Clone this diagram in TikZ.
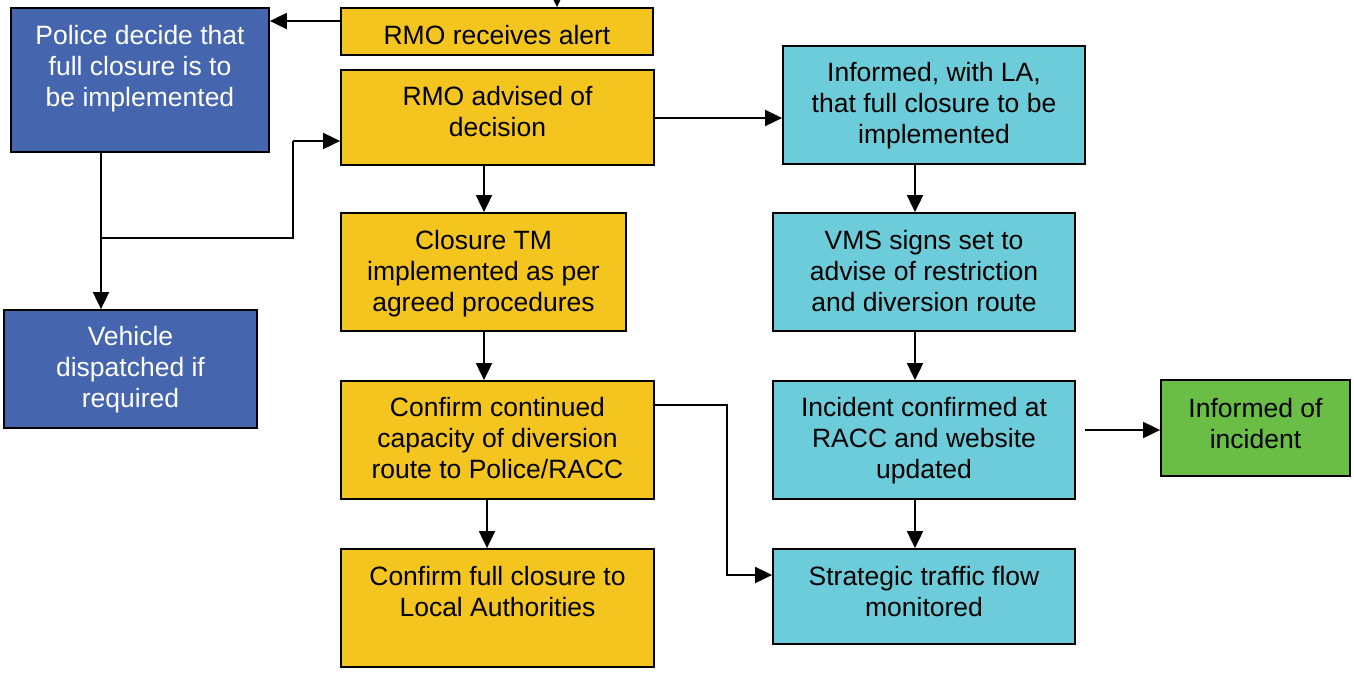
\documentclass[tikz,border=0pt]{standalone}
\usepackage{fontspec}
\setmainfont{Liberation Sans}
\usetikzlibrary{arrows.meta,fit,calc}
\definecolor{cblue}{HTML}{4566AF}
\definecolor{cyell}{HTML}{F5C51F}
\definecolor{ccyan}{HTML}{6DCCD9}
\definecolor{cgreen}{HTML}{6ABE45}
\tikzset{
  boxbase/.style={draw=black, line width=1.8pt, inner sep=0pt},
  bluebox/.style={boxbase, fill=cblue},
  yellbox/.style={boxbase, fill=cyell},
  cyanbox/.style={boxbase, fill=ccyan},
  greenbox/.style={boxbase, fill=cgreen},
  txt/.style={align=center, inner sep=0pt, font=\fontsize{26.5}{31}\selectfont},
  wtxt/.style={txt, text=white},
  conn/.style={line width=1.9pt, -{Triangle[length=17pt,width=16pt]}},
  plainline/.style={line width=1.9pt}
}
% name, box style, x1, y1, x2, y2, text style, text y, text
\newcommand\flowbox[9]{%
  \path (#3,#4) coordinate (#1-nw) (#5,#6) coordinate (#1-se);
  \node[#2, fit=(#1-nw)(#1-se)] (#1) {};
  \node[#7] (#1-t) at ({(#3+#5)/2},#8) {#9};
}
\begin{document}
\begin{tikzpicture}[x=1pt,y=-1pt]
\clip (0,0) rectangle (1354,673);
\fill[white] (0,0) rectangle (1354,673);

\flowbox{police}{bluebox}{11}{8}{269}{152}{wtxt}{69}{Police decide that\\full closure is to\\be implemented}
\flowbox{vehicle}{bluebox}{4}{310}{257}{428}{wtxt}{370}{Vehicle\\dispatched if\\required}
\flowbox{rmoa}{yellbox}{341}{8}{653}{55}{txt}{35.5}{RMO receives alert}
\flowbox{rmob}{yellbox}{341}{70}{654}{165}{txt}{111.5}{RMO advised of\\decision}
\flowbox{closure}{yellbox}{341}{213}{626}{331}{txt}{274}{Closure TM\\implemented as per\\agreed procedures}
\flowbox{confirm}{yellbox}{341}{381}{654}{499}{txt}{438.5}{Confirm continued\\capacity of diversion\\route to Police/RACC}
\flowbox{full}{yellbox}{341}{549}{654}{667}{txt}{592}{Confirm full closure to\\Local Authorities}
\flowbox{informed}{cyanbox}{783}{46}{1085}{164}{txt}{106}{Informed, with LA,\\that full closure to be\\implemented}
\flowbox{vms}{cyanbox}{773}{213}{1075}{331}{txt}{271}{VMS signs set to\\advise of restriction\\and diversion route}
\flowbox{incident}{cyanbox}{773}{381}{1075}{499}{txt}{441}{Incident confirmed at\\RACC and website\\updated}
\flowbox{strategic}{cyanbox}{773}{549}{1075}{644}{txt}{592}{Strategic traffic flow\\monitored}
\flowbox{infinc}{greenbox}{1161}{380}{1350}{476}{txt}{424}{Informed of\\incident}

\coordinate (topin) at (557,-20);
\coordinate (split) at (101,238);
\coordinate (bend1) at (293,238);
\coordinate (bend2) at (293,141);
\coordinate (cbend1) at (727,405);
\coordinate (cbend2) at (727,575);
\coordinate (incout) at (1085,430);

\draw[conn] (topin) -- (rmoa.north -| topin);
\draw[conn] (rmoa.west |- 0,21) -- (police.east |- 0,21);
\draw[conn] (police.south -| split) -- (vehicle.north -| split);
\draw[plainline] (split) -- (bend1) -- (bend2);
\draw[conn] (bend2) -- (rmob.west |- bend2);
\draw[conn] (rmob.east |- 0,118) -- (informed.west |- 0,118);
\draw[conn] (rmob.south -| 484,0) -- (closure.north -| 484,0);
\draw[conn] (closure.south -| 484,0) -- (confirm.north -| 484,0);
\draw[conn] (confirm.south -| 487,0) -- (full.north -| 487,0);
\draw[conn] (confirm.east |- cbend1) -- (cbend1) -- (cbend2) -- (strategic.west |- cbend2);
\draw[conn] (informed.south -| 915,0) -- (vms.north -| 915,0);
\draw[conn] (vms.south -| 915,0) -- (incident.north -| 915,0);
\draw[conn] (incident.south -| 915,0) -- (strategic.north -| 915,0);
\draw[conn] (incout) -- (infinc.west |- incout);
\end{tikzpicture}
\end{document}
